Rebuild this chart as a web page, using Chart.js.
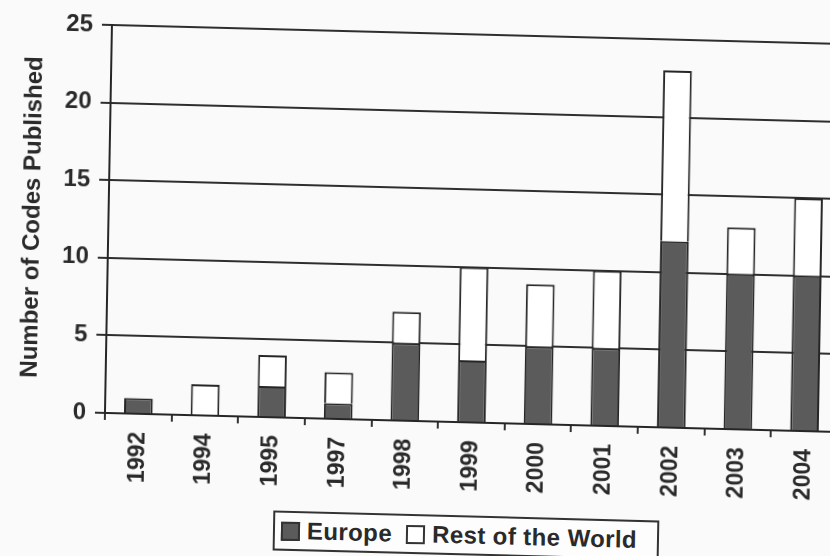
<!DOCTYPE html>
<html>
<head>
<meta charset="utf-8">
<script src="https://cdn.jsdelivr.net/npm/chart.js@4.4.1/dist/chart.umd.min.js"></script>
<style>
  html, body { margin: 0; padding: 0; background: #fafafa; overflow: hidden; width: 830px; height: 556px; }
  #page {
    position: absolute; left: 0; top: 0; width: 850px; height: 556px;
    transform-origin: 105px 413px;
    transform: matrix(1, 0.026, -0.018, 1, 0, 0);
  }
  #chart { position: absolute; left: 0; top: 0; }
  #legend {
    position: absolute; left: 275px; top: 506px; width: 376px; height: 36px;
    border: 2px solid #333; background: #fdfdfd;
    font: bold 24px "Liberation Sans", Arial, sans-serif; color: #2a2a2a; letter-spacing: 0.4px;
    display: flex; align-items: center; padding-left: 6px; box-sizing: content-box;
  }
  .item { display: flex; align-items: center; margin-right: 14px; }
  .swatch { width: 15px; height: 15px; border: 2px solid #333; margin-right: 7px; }
</style>
</head>
<body>
<div id="page">
  <canvas id="chart" width="850" height="500"></canvas>
  <div id="legend"></div>
</div>
<script>
// Codes of practice published per year, split by region
const years = ['1992', '1994', '1995', '1997', '1998', '1999', '2000', '2001', '2002', '2003', '2004'];
const europe = [1, 0, 2, 1, 5, 4, 5, 5, 12, 10, 10];
const restOfWorld = [0, 2, 2, 2, 2, 6, 4, 5, 11, 3, 5];
const seriesNames = ['Europe', 'Rest of the World'];
const seriesFills = ['#5b5b5b', '#ffffff'];

const ink = '#2a2a2a';
const font = 'Liberation Sans, Arial, sans-serif';

const chart = new Chart(document.getElementById('chart'), {
  type: 'bar',
  data: {
    labels: years,
    datasets: [europe, restOfWorld].map((vals, i) => ({
      label: seriesNames[i],
      data: vals,
      backgroundColor: seriesFills[i],
      borderColor: '#262626',
      borderWidth: 2,
      barPercentage: 0.43,
      categoryPercentage: 1
    }))
  },
  options: {
    responsive: false,
    animation: false,
    layout: { padding: { left: 0, right: 12, top: 25, bottom: 0 } },
    plugins: { legend: { display: false }, tooltip: { enabled: false } },
    scales: {
      x: {
        stacked: true,
        grid: { drawOnChartArea: false, drawTicks: true, tickLength: 7, color: '#333', lineWidth: 2, offset: true },
        border: { display: true, color: '#262626', width: 2 },
        ticks: {
          autoSkip: false, maxRotation: 90, minRotation: 90, padding: 11,
          color: ink, font: { family: font, size: 23, weight: 'bold' }
        },
        afterFit: s => { s.height = 87; }
      },
      y: {
        stacked: true,
        min: 0, max: 25,
        ticks: { stepSize: 5, padding: 9, color: ink, font: { family: font, size: 24, weight: 'bold' } },
        grid: { color: '#2e2e2e', lineWidth: 2, tickLength: 10 },
        border: { display: true, color: '#262626', width: 2 },
        title: {
          display: true, text: 'Number of Codes Published', color: ink,
          font: { family: font, size: 24, weight: 'bold' }, padding: { top: 15, bottom: 0 }
        },
        afterFit: s => { s.width = 105; }
      }
    }
  }
});

// Legend built from the chart's datasets
const legend = document.getElementById('legend');
chart.data.datasets.forEach(ds => {
  const item = document.createElement('div');
  item.className = 'item';
  const sw = document.createElement('span');
  sw.className = 'swatch';
  sw.style.background = ds.backgroundColor;
  const txt = document.createElement('span');
  txt.textContent = ds.label;
  item.appendChild(sw);
  item.appendChild(txt);
  legend.appendChild(item);
});
</script>
</body>
</html>
